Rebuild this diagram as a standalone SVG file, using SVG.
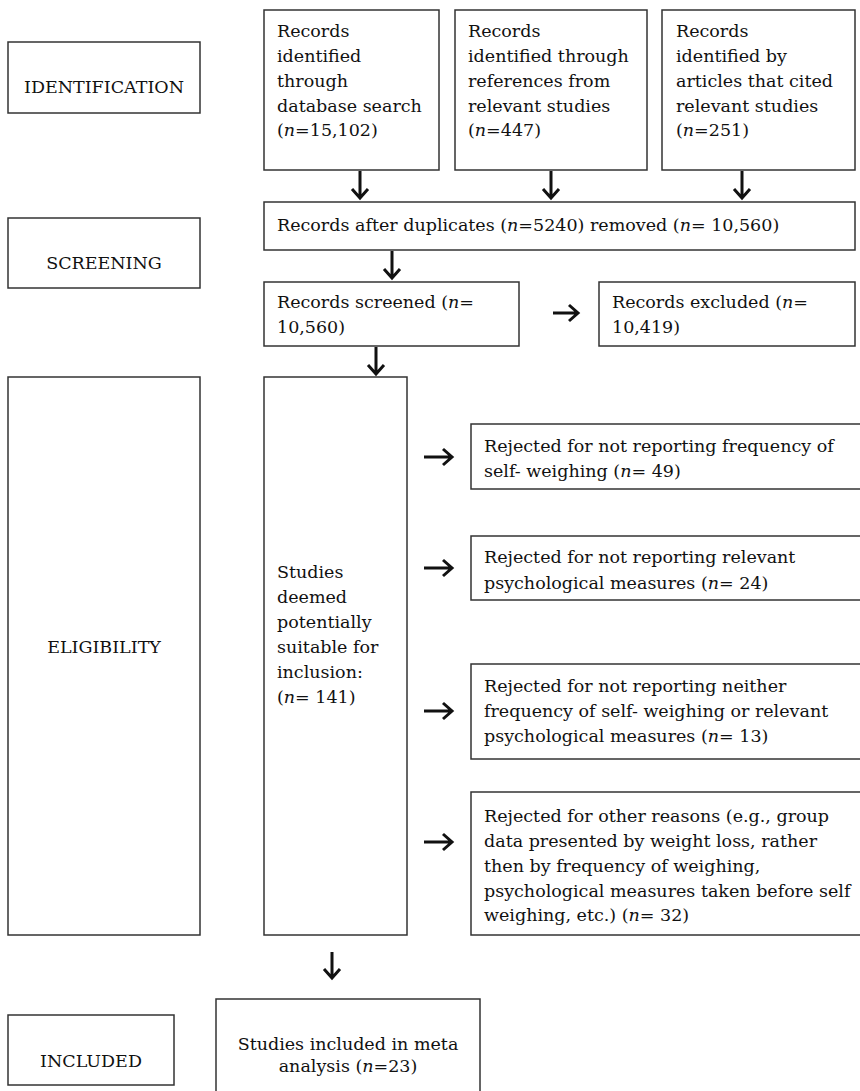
<svg xmlns="http://www.w3.org/2000/svg" width="860" height="1091" viewBox="0 0 860 1091">
<style>
rect{fill:#fff;stroke:#333;stroke-width:1.5}
text{font-family:"DejaVu Serif","Liberation Serif",serif;font-size:17.5px;fill:#111}
.c{text-anchor:middle}
.i{font-style:italic}
.a{stroke:#111;stroke-width:3;fill:none}
</style>
<rect width="860" height="1091" fill="#fff" style="stroke:none"/>
<g id="stage-identification"><rect x="8" y="42" width="192" height="71"/><text class="c" x="104" y="93">IDENTIFICATION</text></g>
<g id="stage-screening"><rect x="8" y="218" width="192" height="70"/><text class="c" x="104" y="269">SCREENING</text></g>
<g id="stage-eligibility"><rect x="8" y="377" width="192" height="558"/><text class="c" x="104" y="653">ELIGIBILITY</text></g>
<g id="stage-included"><rect x="8" y="1015" width="166" height="70"/><text class="c" x="91" y="1067">INCLUDED</text></g>

<g id="db"><rect x="264" y="10" width="175" height="160"/>
<text x="277" y="37">Records</text><text x="277" y="62">identified</text><text x="277" y="87">through</text><text x="277" y="112">database search</text><text x="277" y="136">(<tspan class="i">n</tspan>=15,102)</text></g>
<g id="refs"><rect x="455" y="10" width="192" height="160"/>
<text x="468" y="37">Records</text><text x="468" y="62">identified through</text><text x="468" y="87">references from</text><text x="468" y="112">relevant studies</text><text x="468" y="136">(<tspan class="i">n</tspan>=447)</text></g>
<g id="cited"><rect x="662" y="10" width="193" height="160"/>
<text x="676" y="37">Records</text><text x="676" y="62">identified by</text><text x="676" y="87">articles that cited</text><text x="676" y="112">relevant studies</text><text x="676" y="136">(<tspan class="i">n</tspan>=251)</text></g>
<g id="dups"><rect x="264" y="202" width="591" height="48"/>
<text x="277" y="231">Records after duplicates (<tspan class="i">n</tspan>=5240) removed (<tspan class="i">n</tspan>= 10,560)</text></g>
<g id="screened"><rect x="264" y="282" width="255" height="64"/>
<text x="277" y="308">Records screened (<tspan class="i">n</tspan>=</text><text x="277" y="333">10,560)</text></g>
<g id="excluded"><rect x="599" y="282" width="256" height="64"/>
<text x="612" y="308">Records excluded (<tspan class="i">n</tspan>=</text><text x="612" y="333">10,419)</text></g>
<g id="studies"><rect x="264" y="377" width="143" height="558"/>
<text x="277" y="578">Studies</text><text x="277" y="603">deemed</text><text x="277" y="628">potentially</text><text x="277" y="653">suitable for</text><text x="277" y="678">inclusion:</text><text x="277" y="703">(<tspan class="i">n</tspan>= 141)</text></g>
<g id="rej1"><rect x="471" y="424" width="395" height="65"/>
<text x="484" y="452">Rejected for not reporting frequency of</text><text x="484" y="477">self- weighing (<tspan class="i">n</tspan>= 49)</text></g>
<g id="rej2"><rect x="471" y="536" width="395" height="64"/>
<text x="484" y="563">Rejected for not reporting relevant</text><text x="484" y="589">psychological measures (<tspan class="i">n</tspan>= 24)</text></g>
<g id="rej3"><rect x="471" y="664" width="395" height="95"/>
<text x="484" y="692">Rejected for not reporting neither</text><text x="484" y="717">frequency of self- weighing or relevant</text><text x="484" y="742">psychological measures (<tspan class="i">n</tspan>= 13)</text></g>
<g id="rej4"><rect x="471" y="792" width="395" height="143"/>
<text x="484" y="822">Rejected for other reasons (e.g., group</text><text x="484" y="847">data presented by weight loss, rather</text><text x="484" y="872">then by frequency of weighing,</text><text x="484" y="897">psychological measures taken before self</text><text x="484" y="921">weighing, etc.) (<tspan class="i">n</tspan>= 32)</text></g>
<g id="included"><rect x="216" y="999" width="264" height="100"/>
<text class="c" x="348" y="1050">Studies included in meta</text><text class="c" x="348" y="1072">analysis (<tspan class="i">n</tspan>=23)</text></g>

<g id="connectors">
<path class="a" d="M360 171V198M352 189L360 198L368 189"/>
<path class="a" d="M551 171V198M543 189L551 198L559 189"/>
<path class="a" d="M742 171V198M734 189L742 198L750 189"/>
<path class="a" d="M392 251V278M384 269L392 278L400 269"/>
<path class="a" d="M376 347V374M368 365L376 374L384 365"/>
<path class="a" d="M553 313H578M569 305L578 313L569 321"/>
<path class="a" d="M424 457H452M443 449L452 457L443 465"/>
<path class="a" d="M424 568H452M443 560L452 568L443 576"/>
<path class="a" d="M424 711H452M443 703L452 711L443 719"/>
<path class="a" d="M424 842H452M443 834L452 842L443 850"/>
<path class="a" d="M332 952V978M324 969L332 978L340 969"/>
</g>
</svg>
